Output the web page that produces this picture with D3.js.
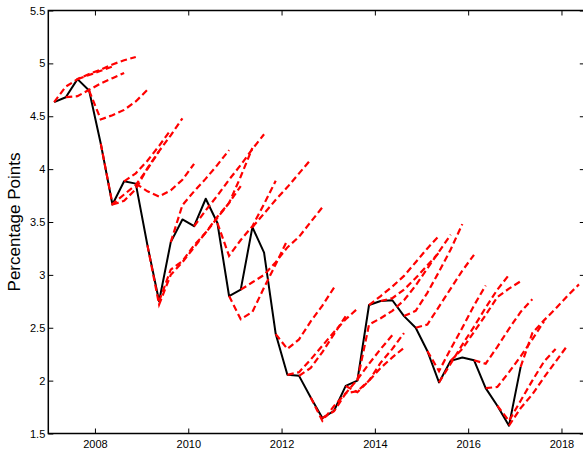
<!DOCTYPE html>
<meta charset="utf-8">
<script src="https://d3js.org/d3.v7.min.js"></script>
<style>
  body { margin: 0; background: #fff; }
  text { font-family: "Liberation Sans", Arial, sans-serif; }
</style>
<svg id="chart" width="583" height="450"></svg>
<script>
// realised rate, quarterly from 2007Q1 to 2017Q1
var actual = [4.634, 4.68, 4.851, 4.743, 4.24, 3.665, 3.885, 3.863, 3.28, 2.75,
              3.31, 3.524, 3.46, 3.72, 3.49, 2.80, 2.86, 3.451, 3.21, 2.44,
              2.055, 2.045, 1.84, 1.646, 1.715, 1.95, 2.0, 2.715, 2.753, 2.76,
              2.61, 2.50, 2.28, 1.983, 2.187, 2.219, 2.193, 1.929, 1.762, 1.574, 2.13];

// forecast paths: quarter index where each one starts, and its values
var forecastStart = [0, 1, 2, 3, 4, 5, 6, 7, 8, 9, 10, 12, 14, 15, 16, 17, 19, 20, 21,
                     22, 23, 25, 26, 27, 28, 30, 31, 32, 33, 34, 36, 37, 38, 39, 40];
var forecastPaths = [
  [4.634, 4.78, 4.85, 4.90, 4.94, 4.99, 5.03, 5.06],
  [4.68, 4.69, 4.75, 4.81, 4.86, 4.91],
  [4.851, 4.89, 4.93, 4.97],
  [4.743, 4.47, 4.51, 4.56, 4.64, 4.75],
  [4.24, 3.67, 3.76, 3.85, 4.00, 4.17, 4.32, 4.48],
  [3.665, 3.70, 3.81, 4.01, 4.17],
  [3.885, 3.96, 4.08, 4.22, 4.37],
  [3.863, 3.79, 3.74, 3.80, 3.90, 4.05],
  [3.28, 2.72, 3.00, 3.12, 3.26, 3.40, 3.54, 3.68, 3.84],
  [2.75, 3.05, 3.13, 3.28, 3.40, 3.55, 3.68, 3.93, 4.20],
  [3.31, 3.66, 3.79, 3.91, 4.04, 4.18],
  [3.46, 3.61, 3.75, 3.90, 4.04, 4.19, 4.33],
  [3.49, 3.18, 3.33, 3.46, 3.67, 3.89],
  [2.80, 2.58, 2.65, 2.88, 3.10, 3.33],
  [2.86, 2.93, 3.00, 3.12, 3.26, 3.36, 3.50, 3.64],
  [3.451, 3.58, 3.71, 3.83, 3.96, 4.09],
  [2.44, 2.30, 2.39, 2.56, 2.71, 2.88],
  [2.055, 2.08, 2.20, 2.33, 2.46, 2.58, 2.68],
  [2.045, 2.12, 2.27, 2.44, 2.61],
  [1.84, 1.62, 1.76, 1.88, 2.01, 2.16, 2.30, 2.43],
  [1.646, 1.71, 1.88, 1.90, 2.00, 2.17, 2.30, 2.45],
  [1.95, 1.89, 2.00, 2.12, 2.22, 2.31],
  [2.0, 2.53, 2.59, 2.66, 2.76, 2.90, 3.06, 3.22, 3.38],
  [2.715, 2.80, 2.89, 2.99, 3.12, 3.25, 3.37],
  [2.753, 2.78, 2.86, 2.97, 3.09, 3.21],
  [2.61, 2.66, 2.83, 3.03, 3.24, 3.48],
  [2.50, 2.53, 2.70, 2.87, 3.04, 3.19],
  [2.28, 2.09, 2.30, 2.50, 2.71, 2.90],
  [1.983, 2.16, 2.34, 2.51, 2.69, 2.86, 3.00],
  [2.187, 2.30, 2.46, 2.62, 2.79, 2.87, 2.94],
  [2.193, 2.16, 2.32, 2.49, 2.65, 2.77],
  [1.929, 1.94, 2.08, 2.23, 2.39, 2.56],
  [1.762, 1.62, 1.81, 2.00, 2.18, 2.30],
  [1.574, 1.74, 1.87, 2.03, 2.18, 2.33],
  [2.13, 2.45, 2.57, 2.68, 2.80, 2.91]
];

var xTicks = [2008, 2010, 2012, 2014, 2016, 2018];
var yTicks = [1.5, 2, 2.5, 3, 3.5, 4, 4.5, 5, 5.5];
var yLabel = "Percentage Points";

// quarter index -> mid-quarter date
function qDate(k) { return 2007.125 + k / 4; }

var svg = d3.select("#chart");
var padL = 48.3, padR = 584.8, padT = 10.5, padB = 433.5;

var x = d3.scaleLinear().domain([2007, 2018.5]).range([padL, padR]);
var y = d3.scaleLinear().domain([1.5, 5.5]).range([padB, padT]);

svg.append("clipPath").attr("id", "plot")
  .append("rect").attr("x", padL).attr("y", padT)
  .attr("width", padR - padL).attr("height", padB - padT);

var line = d3.line()
  .x(function(d) { return x(qDate(d[0])); })
  .y(function(d) { return y(d[1]); });

var g = svg.append("g").attr("clip-path", "url(#plot)");

// black actual line
g.append("path")
  .attr("d", line(actual.map(function(v, i) { return [i, v]; })))
  .attr("fill", "none")
  .attr("stroke", "#000")
  .attr("stroke-width", 2)
  .attr("stroke-linejoin", "round");

// red dashed forecasts
forecastPaths.forEach(function(vals, j) {
  var s = forecastStart[j];
  g.append("path")
    .attr("d", line(vals.map(function(v, i) { return [s + i, v]; })))
    .attr("fill", "none")
    .attr("stroke", "#ff0000")
    .attr("stroke-width", 2.2)
    .attr("stroke-dasharray", "6.5,3.5");
});

// axes, ticks pointing inwards on all four sides
function styleAxis(sel) {
  sel.select(".domain").remove();
  sel.selectAll("line").attr("stroke", "#000").attr("stroke-width", 1);
  sel.selectAll("text").attr("fill", "#000").style("font-size", "11px")
    .style("font-family", "'Liberation Sans', Arial, sans-serif");
}

svg.append("g").attr("transform", "translate(0," + padB + ")")
  .call(d3.axisBottom(x).tickValues(xTicks).tickSize(-5).tickPadding(7)
    .tickFormat(function(d) { return d; }))
  .call(styleAxis);

svg.append("g").attr("transform", "translate(0," + padT + ")")
  .call(d3.axisTop(x).tickValues(xTicks).tickSize(-5).tickFormat(""))
  .call(styleAxis);

svg.append("g").attr("transform", "translate(" + padL + ",0)")
  .call(d3.axisLeft(y).tickValues(yTicks).tickSize(-5).tickPadding(3)
    .tickFormat(function(d) { return String(d); }))
  .call(styleAxis);

svg.append("g").attr("transform", "translate(" + padR + ",0)")
  .call(d3.axisRight(y).tickValues(yTicks).tickSize(-5).tickFormat(""))
  .call(styleAxis);

// box
svg.append("rect")
  .attr("x", padL).attr("y", padT)
  .attr("width", padR - padL).attr("height", padB - padT)
  .attr("fill", "none").attr("stroke", "#000").attr("stroke-width", 1.5);

svg.append("text")
  .attr("transform", "translate(20," + ((padT + padB) / 2) + ") rotate(-90)")
  .attr("text-anchor", "middle")
  .style("font-size", "17px")
  .attr("fill", "#000")
  .text(yLabel);
</script>
